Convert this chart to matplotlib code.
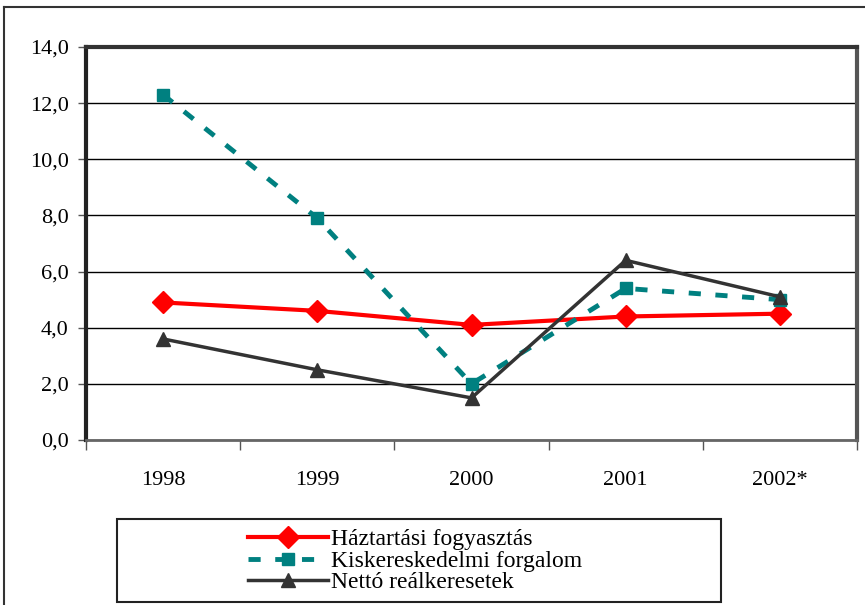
import matplotlib.pyplot as plt
from matplotlib.lines import Line2D
from matplotlib.patches import Rectangle

years = ['1998', '1999', '2000', '2001', '2002*']
haztartasi = [4.9, 4.6, 4.1, 4.4, 4.5]
kisker = [12.3, 7.9, 2.0, 5.4, 5.0]
netto = [3.6, 2.5, 1.5, 6.4, 5.1]
names = ['Háztartási fogyasztás', 'Kiskereskedelmi forgalom', 'Nettó reálkeresetek']

plt.rcParams['font.family'] = ['Liberation Serif', 'DejaVu Serif']

W, H = 865, 605
fig = plt.figure(figsize=(8.65, 6.05), dpi=100)
ax = fig.add_axes([86 / W, (H - 440) / H, (857 - 86) / W, (440 - 47) / H])

x = range(len(years))
ax.plot(x, haztartasi, color='#ff0000', lw=3, marker='D', ms=11, label=names[0], zorder=3)
ax.plot(x, kisker, color='#008080', lw=3.5, ls=(0, (2.5, 3)), marker='s', ms=9, label=names[1], zorder=3)
ax.plot(x, netto, color='#333333', lw=2.5, marker='^', ms=10, label=names[2], zorder=3)

ax.set_xlim(-0.5, len(years) - 0.5)
ax.set_ylim(0, 14)
ax.set_yticks(range(0, 15, 2))
ax.set_yticklabels([('%.1f' % v).replace('.', ',') for v in range(0, 15, 2)])
# tick marks at category boundaries, labels at category centres
ax.set_xticks([i + 0.5 for i in range(-1, len(years))])
ax.set_xticklabels([])
ax.set_xticks(list(x), minor=True)
ax.set_xticklabels(years, minor=True)
ax.tick_params(axis='x', which='major', length=7, width=1, direction='out', color='#555555')
ax.tick_params(axis='x', which='minor', length=0, pad=22, labelsize=16)
ax.tick_params(axis='y', length=5.5, width=1, direction='out', labelsize=16, pad=7, color='#555555')
ax.yaxis.grid(True, color='black', lw=1)
ax.set_axisbelow(True)

ax.spines['left'].set_linewidth(3)
ax.spines['left'].set_color('#222222')
ax.spines['top'].set_linewidth(3)
ax.spines['top'].set_color('#333333')
ax.spines['right'].set_linewidth(3)
ax.spines['right'].set_color('#555555')
ax.spines['bottom'].set_linewidth(2)
ax.spines['bottom'].set_color('#666666')

# legend box
fig.patches.append(Rectangle((117 / W, (H - 602) / H), (721 - 117) / W, (602 - 519) / H,
                             transform=fig.transFigure, fill=False, ec='#222222', lw=1.5))
handles, labels = ax.get_legend_handles_labels()
fig.legend(handles, labels, loc='center left', bbox_to_anchor=(248 / W, (H - 561) / H),
           frameon=False, fontsize=17, handlelength=3.4, handletextpad=0.1,
           labelspacing=0.0, borderpad=0, borderaxespad=0)

# outer frame (only top and left edges fall inside the image)
fig.add_artist(Line2D([4 / W, 1], [1 - 7 / H, 1 - 7 / H], transform=fig.transFigure,
                      color='#333333', lw=1.5))
fig.add_artist(Line2D([4 / W, 4 / W], [0, 1 - 7 / H], transform=fig.transFigure,
                      color='#333333', lw=1.5))

fig.savefig('out.png', dpi=100)
